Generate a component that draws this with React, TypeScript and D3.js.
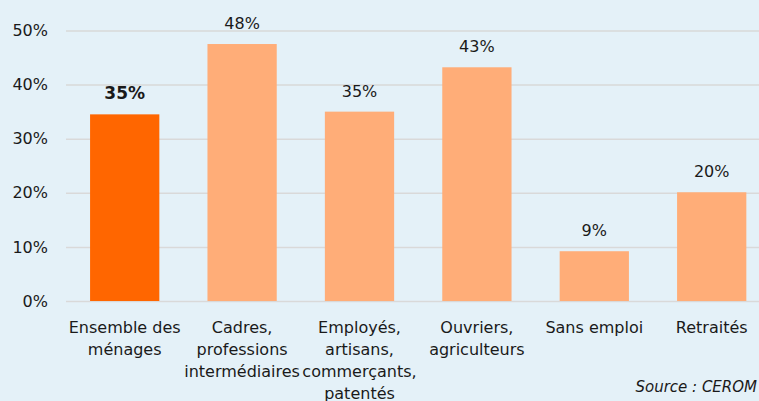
import React, { useRef, useEffect } from "react";
import * as d3 from "d3";

const categories = [
  ["Ensemble des", "ménages"],
  ["Cadres,", "professions", "intermédiaires"],
  ["Employés,", "artisans,", "commerçants,", "patentés"],
  ["Ouvriers,", "agriculteurs"],
  ["Sans emploi"],
  ["Retraités"],
];
const values = [34.5, 47.5, 35, 43.2, 9.2, 20.1];
const valueLabels = ["35%", "48%", "35%", "43%", "9%", "20%"];
const yTicks = [0, 10, 20, 30, 40, 50];

const W = 759;
const H = 401;
const FONT = "DejaVu Sans, Verdana, sans-serif";

const App = () => {
  const svgRef = useRef<SVGSVGElement>(null);

  useEffect(() => {
    const svg = d3.select(svgRef.current);
    svg.selectAll("*").remove();

    svg.append("rect").attr("width", W).attr("height", H).attr("fill", "#e4f1f8");

    const x = d3
      .scaleBand<number>()
      .domain(d3.range(categories.length))
      .range([66, 66 + 117.4 * 6])
      .paddingInner(0.41)
      .paddingOuter(0.205);
    const y = d3.scaleLinear().domain([0, 50]).range([301, 30.5]);

    const grid = svg
      .append("g")
      .call(d3.axisLeft(y).tickValues(yTicks).tickSize(-(W - 66)).tickFormat((d) => `${d}%`))
      .attr("transform", "translate(66,0)");
    grid.select(".domain").remove();
    grid.selectAll(".tick line").attr("stroke", "#d9d9d9").attr("stroke-width", 1.5);
    grid
      .selectAll(".tick text")
      .attr("x", -18)
      .attr("fill", "#1a1a1a")
      .style("font-family", FONT)
      .style("font-size", "16px");

    svg
      .append("g")
      .selectAll("rect")
      .data(values)
      .enter()
      .append("rect")
      .attr("x", (_, i) => x(i)!)
      .attr("width", x.bandwidth())
      .attr("y", (d) => y(d))
      .attr("height", (d) => y(0) - y(d))
      .attr("fill", (_, i) => (i === 0 ? "#ff6600" : "#ffad78"));

    svg
      .append("g")
      .selectAll("text")
      .data(values)
      .enter()
      .append("text")
      .attr("x", (_, i) => x(i)! + x.bandwidth() / 2)
      .attr("y", (d) => y(d) - 15)
      .attr("text-anchor", "middle")
      .attr("fill", "#1a1a1a")
      .style("font-family", FONT)
      .style("font-size", (_, i) => (i === 0 ? "17px" : "16px"))
      .style("font-weight", (_, i) => (i === 0 ? "bold" : "normal"))
      .text((_, i) => valueLabels[i]);

    const cats = svg.append("g");
    categories.forEach((lines, i) => {
      const t = cats
        .append("text")
        .attr("text-anchor", "middle")
        .attr("fill", "#1a1a1a")
        .style("font-family", FONT)
        .style("font-size", "16px");
      lines.forEach((l, j) => {
        t.append("tspan")
          .attr("x", x(i)! + x.bandwidth() / 2)
          .attr("y", 333 + j * 22)
          .text(l);
      });
    });

    svg
      .append("text")
      .attr("x", 757)
      .attr("y", 392)
      .attr("text-anchor", "end")
      .attr("fill", "#1a1a1a")
      .style("font-family", FONT)
      .style("font-size", "15px")
      .style("font-style", "italic")
      .text("Source : CEROM");
  }, []);

  return <svg ref={svgRef} width={W} height={H} style={{ position: "absolute", left: 0, top: 0 }} />;
};

export default App;
